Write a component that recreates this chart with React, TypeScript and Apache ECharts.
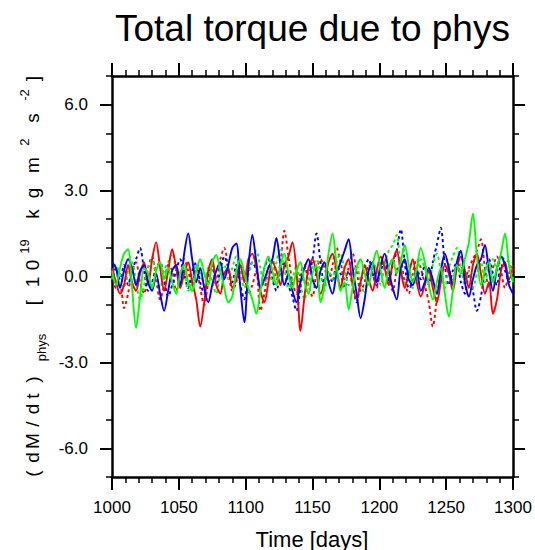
import React, { useEffect, useRef } from "react";
import * as echarts from "echarts";

const TITLE = "Total torque due to phys";
const X_NAME = "Time [days]";
const DAY_START = 1000;
const DAY_STEP = 3;
const Y_MAJOR = [-6, -3, 0, 3, 6];
const Y_MINOR = [-7, -6, -5, -4, -3, -2, -1, 0, 1, 2, 3, 4, 5, 6, 7];

const RED_SOLID = [
  0.3, -0.2, -0.6, -0.3, 0.4, -0.2, -0.5, 0.1, 0.5, -0.3,
  0.6, 1.2, 0.3, -0.5, 0.2, 0.95, 0.3, -0.4, 0.1, 0.5,
  -0.2, -0.8, -1.75, -0.9, 0.2, 0.6, -0.3, -0.6, 0.1, 0.3,
  -0.4, -0.1, 0.4, -0.2, 0.6, 0.8, 0.3, -0.5, -0.9, -0.2,
  0.5, 0.2, -0.3, 0.4, 0.7, 1.2, 0.2, -1.9, -0.7, 0.3,
  0.6, 0.1, -0.6, -0.2, 0.5, 0.8, 0.2, -0.4, 0.3, 0.6,
  -0.3, -0.8, -0.2, 0.4, -0.1, -0.5, 0.2, 0.7, 0.3, -0.3,
  0.5, 0.9, 0.2, -0.4, 0.1, 0.6, -0.2, -0.7, -0.3, 0.2,
  -0.4, -0.9, -0.2, 0.4, 0.1, -0.5, 0.3, 0.7, 0.2, -0.4,
  0.4, 0.8, 0.1, -0.6, -0.2, -1.3, -0.8, 0.2, 0.5, -0.1,
  0.3,
];
const RED_DASH = [
  0.1, -0.4, -0.3, -1.1, -0.6, 0.2, 0.5, -0.2, -0.6, 0.3,
  0.7, -0.1, -0.8, -0.3, 0.4, 0.2, -0.5, 0.1, 0.6, 0.2,
  -0.3, 0.3, -0.4, -1.0, -0.2, 0.4, -0.1, 0.6, 1.0, 0.3,
  -0.5, -0.2, 0.5, 0.1, -0.6, -0.3, 0.2, -1.2, -0.6, 0.3,
  0.6, -0.1, 0.5, 1.6, 0.7, -0.2, -0.6, 0.1, 0.4, -0.3,
  -0.7, 0.2, 0.6, 0.3, -0.2, 0.4, 1.0, 0.5, -0.1, 0.3,
  0.8, 0.2, -0.5, -0.2, 0.4, 0.1, -0.4, 0.3, 0.6, -0.1,
  -0.5, 0.2, 0.5, -0.2, -0.6, 0.1, 0.6, 0.3, -0.3, -0.9,
  -1.75, -0.8, 0.2, 0.7, 0.3, -0.2, 0.4, 0.4, -0.1, 0.3,
  0.6, 0.9, 1.3, 0.3, -0.4, 0.3, 0.7, 0.2, -0.4, 0.1,
  0.4,
];
const BLUE_SOLID = [
  0.5, 0.3, -0.4, 0.2, 0.6, 0.3, -0.3, 0.2, 0.4, -0.2,
  -0.5, 0.1, -0.6, -1.2, -0.5, 0.2, 0.4, -0.3, 0.8, 1.5,
  0.6, -0.2, 0.3, -0.4, -0.9, -0.3, 0.2, 0.5, -0.1, 0.4,
  1.0, 1.15, -0.4, -1.6, 0.3, 1.45, 0.5, -0.4, -0.1, 0.3,
  0.6, 1.35, 0.4, -0.3, 0.1, -0.5, -0.9, -0.2, 0.3, 0.6,
  -0.1, -0.4, 0.2, 0.5, -0.2, -0.6, 0.1, 0.5, 0.9, 1.3,
  0.3, -0.6, -1.45, -0.8, 0.2, 0.5, -0.2, 0.4, 0.8, 0.2,
  -0.4, -0.8, 0.3, 0.6, -0.1, -0.3, 0.2, -0.5, -0.2, 0.3,
  -0.1, -0.6, 0.2, 0.8, 0.3, -0.3, 0.5, 0.9, -0.2, -0.7,
  -0.1, 0.4, 0.6, 1.1, 0.2, -0.5, 0.3, 0.7, 0.4, -0.3,
  -0.6,
];
const BLUE_DASH = [
  -0.2, 0.3, -0.1, 0.4, -0.3, 0.2, 0.6, 1.0, 0.2, -0.5,
  -0.2, 0.3, 0.5, -0.1, -0.7, -0.3, 0.2, 0.6, 0.1, -0.4,
  0.2, 0.5, -0.2, -0.6, 0.1, 0.3, -0.3, 0.2, 0.7, 0.3,
  -0.2, 0.4, -0.3, -0.8, 0.1, 0.5, 0.2, -0.4, 0.3, 0.6,
  -0.1, -0.5, 0.2, 0.5, -0.3, -0.7, -1.2, -0.4, 0.3, 0.1,
  0.6, 1.5, 0.5, -0.3, 0.2, -0.2, 0.4, 0.1, -0.4, 0.2,
  -0.3, -0.9, -0.2, 0.3, 0.6, 0.1, -0.3, 0.2, 0.5, -0.2,
  0.4, 0.9, 1.65, 0.5, -0.4, -0.2, 0.3, -0.1, 0.4, -0.3,
  0.5, 1.1, 1.7, 0.4, -0.3, 0.2, 0.5, -0.2, -0.6, 0.1,
  -0.5, -1.2, -0.7, 0.2, 0.6, 0.1, -0.3, 0.4, 0.2, -0.2,
  0.3,
];
const GREEN_SOLID = [
  0.2, -0.3, 0.3, 0.8, 0.95, -0.4, -1.8, -0.7, 0.3, 0.1,
  -0.4, 0.2, 0.5, -0.1, 0.3, -0.2, -0.6, 0.1, 0.4, -0.2,
  -0.5, 0.2, 0.6, 0.1, -0.3, 0.5, 0.75, 0.2, -0.4, -0.9,
  -0.7, 0.2, 0.6, 0.1, -0.4, -0.8, -1.3, -0.5, 0.3, 0.7,
  0.2, -0.3, 0.4, 0.8, 0.1, -0.4, 0.2, 0.5, -0.2, -0.6,
  0.1, 0.4, -0.9, -0.3, 0.8, 1.5, 0.4, -0.5, -0.2, -1.15,
  -0.4, 0.3, 0.6, 0.1, -0.3, 0.4, 0.9, 0.2, -0.4, 0.3,
  0.6, 0.1, 0.5, 1.1, 0.4, -0.2, 0.3, 1.0, 0.5, -0.3,
  -0.8, -0.2, 0.3, -0.6, -1.4, -0.5, 0.4, 0.1, 0.6, 1.2,
  2.2, 0.7, -0.3, 0.2, 0.5, -0.2, 0.3, 0.8, 1.5, 0.4,
  -0.2,
];
const GREEN_DASH = [
  -0.1, 0.4, 0.1, -0.4, 0.2, 0.5, -0.2, -0.8, -0.3, 0.3,
  0.6, 0.1, -0.4, 0.2, 0.5, 0.8, 0.2, -0.3, 0.1, -0.5,
  -0.2, 0.4, 0.1, -0.3, 0.3, -0.2, -0.6, 0.1, 0.4, -0.1,
  0.3, 0.7, 0.2, -0.4, 0.1, 0.5, 0.9, 0.3, -0.3, 0.2,
  -0.2, 0.5, 1.0, 0.3, -0.4, -0.1, 0.4, -0.3, -0.8, -0.2,
  0.3, 0.6, 0.1, -0.5, 0.2, -0.1, 0.5, 0.8, 0.2, -0.3,
  0.1, 0.4, -0.2, -0.6, 0.1, 0.5, 0.2, -0.3, 0.4, 0.9,
  1.1, 1.45, 0.4, -0.3, 0.2, -0.4, 0.1, 0.6, 0.3, -0.2,
  0.4, 0.8, 0.2, -0.4, 0.3, 0.7, 1.0, 0.3, -0.3, 0.2,
  -0.4, 0.1, 0.5, -0.2, 0.3, 0.6, 0.2, 0.7, 0.6, 0.5,
  -0.1,
];

const DAYS = RED_SOLID.map((_, i) => DAY_START + DAY_STEP * i);

const FONT = "'Liberation Sans', Arial, Helvetica, sans-serif";

// y-axis title tokens: [text, kind, width]; kind m = main, p = superscript, b = subscript, s = spacer
const Y_NAME_TOKENS: [string, string, number][] = [
  ["(", "m", 16],
  ["d", "m", 16],
  ["M", "m", 17],
  ["/", "m", 17],
  ["d", "m", 13],
  ["t", "m", 13],
  [")", "m", 20],
  ["phys", "b", 44],
  ["", "s", 16],
  ["[", "m", 14],
  ["", "s", 5],
  ["1", "m", 17],
  ["0", "m", 17],
  ["19", "p", 20],
  ["", "s", 14],
  ["k", "m", 17],
  ["", "s", 4],
  ["g", "m", 17],
  ["", "s", 9],
  ["m", "m", 21],
  ["", "s", 7],
  ["2", "p", 11],
  ["", "s", 11],
  ["s", "m", 15],
  ["", "s", 8],
  ["-2", "p", 15],
  ["", "s", 2],
  ["]", "m", 14],
];

export default function App() {
  const ref = useRef<HTMLDivElement>(null);
  useEffect(() => {
    if (!ref.current) return;
    const chart = echarts.init(ref.current, null, { renderer: "svg" });
    const axisLine = { show: true, onZero: false, lineStyle: { color: "#000", width: 2.5 } };
    const mkSeries = (data: number[], color: string, dashed: boolean) => ({
      type: "line",
      xAxisIndex: 0,
      yAxisIndex: 0,
      data: DAYS.map((d, i) => [d, data[i]]),
      showSymbol: false,
      symbol: "none",
      smooth: 0.3,
      lineStyle: { color, width: 1.9, type: dashed ? [3, 3] : "solid" },
      silent: true,
    });

    const rich: Record<string, any> = {};
    let nameStr = "";
    Y_NAME_TOKENS.forEach(([t, kind, w], i) => {
      const key = "t" + i;
      const base: any = { width: w, align: "center", fontFamily: FONT, color: "#000" };
      if (kind === "m") Object.assign(base, { fontSize: 19, lineHeight: 30, verticalAlign: "middle" });
      else if (kind === "p") Object.assign(base, { fontSize: 13, lineHeight: 13, verticalAlign: "top" });
      else if (kind === "b") Object.assign(base, { fontSize: 13, lineHeight: 13, verticalAlign: "bottom" });
      else Object.assign(base, { fontSize: 12, lineHeight: 12, verticalAlign: "middle" });
      rich[key] = base;
      nameStr += "{" + key + "|" + (t === "" ? " " : t) + "}";
    });

    const xBase = {
      type: "value",
      min: 1000,
      max: 1300,
      interval: 50,
      axisLine,
      splitLine: { show: false },
      axisTick: { show: true, inside: false, length: 13, lineStyle: { color: "#000", width: 2 } },
      minorTick: { show: true, splitNumber: 5, length: 6, lineStyle: { color: "#000", width: 1.5 } },
      minorSplitLine: { show: false },
    };
    const yMajor = (pos: string, labels: boolean) => ({
      type: "value",
      position: pos,
      min: -7,
      max: 7,
      axisLine,
      splitLine: { show: false },
      axisTick: { show: true, inside: false, length: 12, customValues: Y_MAJOR, lineStyle: { color: "#000", width: 2 } },
      axisLabel: labels
        ? {
            show: true,
            customValues: Y_MAJOR,
            formatter: (v: number) => v.toFixed(1),
            fontSize: 17,
            color: "#000",
            fontFamily: FONT,
            margin: 24,
          }
        : { show: false },
      ...(labels
        ? {
            name: nameStr,
            nameLocation: "middle",
            nameRotate: 90,
            nameGap: 64,
            nameTextStyle: { rich, fontFamily: FONT, color: "#000" },
          }
        : {}),
    });
    const yMinor = (pos: string) => ({
      type: "value",
      position: pos,
      min: -7,
      max: 7,
      axisLine: { show: false },
      splitLine: { show: false },
      axisTick: { show: true, inside: false, length: 6, customValues: Y_MINOR, lineStyle: { color: "#000", width: 1.5 } },
      axisLabel: { show: false },
    });
    chart.setOption({
      animation: false,
      backgroundColor: "#fff",
      title: {
        text: TITLE,
        left: 110,
        top: 5,
        textStyle: { fontSize: 37, fontWeight: "normal", color: "#000", fontFamily: FONT },
      },
      grid: { left: 112, right: 22, top: 76, bottom: 73, containLabel: false },
      xAxis: [
        {
          ...xBase,
          position: "bottom",
          axisLabel: {
            show: true,
            fontSize: 17,
            color: "#000",
            fontFamily: FONT,
            margin: 22,
            showMinLabel: true,
            showMaxLabel: true,
            formatter: (v: number) => String(v),
          },
        },
        { ...xBase, position: "top", axisLabel: { show: false } },
      ],
      yAxis: [yMajor("left", true), yMinor("left"), yMajor("right", false), yMinor("right")],
      series: [
        mkSeries(RED_DASH, "#ff0000", true),
        mkSeries(BLUE_DASH, "#0000ff", true),
        mkSeries(GREEN_DASH, "#00ff00", true),
        mkSeries(RED_SOLID, "#ff0000", false),
        mkSeries(BLUE_SOLID, "#0000ff", false),
        mkSeries(GREEN_SOLID, "#00ff00", false),
      ],
      graphic: [
        {
          type: "text",
          x: 312,
          y: 539,
          style: { text: X_NAME, fontSize: 22, fontFamily: FONT, fill: "#000", align: "center", verticalAlign: "middle" },
        },
      ],
    });
    return () => chart.dispose();
  }, []);
  return (
    <div
      ref={ref}
      style={{ position: "fixed", left: 0, top: 0, width: 535, height: 550, background: "#fff" }}
    />
  );
}
